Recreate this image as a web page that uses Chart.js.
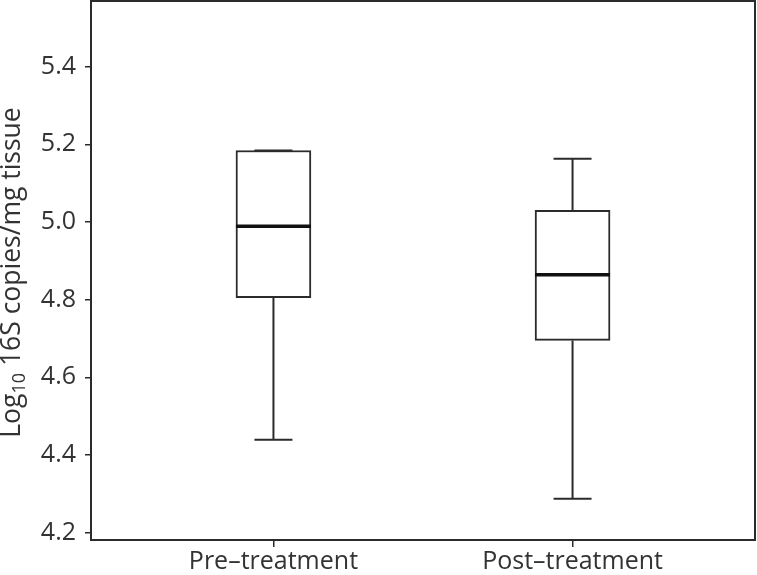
<!DOCTYPE html>
<html>
<head>
<meta charset="utf-8">
<script src="https://cdn.jsdelivr.net/npm/chart.js@4/dist/chart.umd.min.js"></script>
<style>
  html, body { margin: 0; padding: 0; background: #ffffff; }
  #wrap { width: 757px; height: 575px; position: relative; }
</style>
</head>
<body>
<div id="wrap"><canvas id="c"></canvas></div>
<script>
// ---- data ----
const categories = ['Pre\u2013treatment', 'Post\u2013treatment'];
const xPositions = [1, 2];
const whiskerLow = [4.439, 4.287];
const q1 = [4.805, 4.695];
const median = [4.989, 4.864];
const q3 = [5.184, 5.030];
const whiskerHigh = [5.184, 5.163];
const yTicks = [4.2, 4.4, 4.6, 4.8, 5.0, 5.2, 5.4];
const yTitleMain = 'Log';
const yTitleSub = '10';
const yTitleRest = ' 16S copies/mg tissue';

const INK = '#2b2b2b';
const TEXT = '#333333';
const FONT = "'Open Sans', 'Noto Sans', sans-serif";

// whisker segments (vertical lines), separated by gaps
const whiskerData = [];
xPositions.forEach((x, i) => {
  whiskerData.push({ x: x, y: whiskerLow[i] }, { x: x, y: q1[i] }, { x: x, y: null });
  whiskerData.push({ x: x, y: q3[i] }, { x: x, y: whiskerHigh[i] }, { x: x, y: null });
});
const capData = [];
xPositions.forEach((x, i) => {
  capData.push({ x: x, y: whiskerLow[i] }, { x: x, y: whiskerHigh[i] });
});
const medianData = xPositions.map((x, i) => ({ x: x, y: median[i] }));
const boxData = xPositions.map((x, i) => ({ x: x, y: [q1[i], q3[i]] }));

const framePlugin = {
  id: 'frame',
  afterDatasetsDraw(chart) {
    const { ctx, chartArea: a } = chart;
    ctx.save();
    ctx.strokeStyle = INK;
    ctx.lineWidth = 2;
    ctx.strokeRect(a.left, a.top, a.right - a.left, a.bottom - a.top);
    ctx.restore();
  }
};

const yTitlePlugin = {
  id: 'yTitle',
  afterDraw(chart) {
    const { ctx, chartArea: a } = chart;
    const big = "26.5px " + FONT;
    const small = "18px " + FONT;
    ctx.save();
    ctx.fillStyle = TEXT;
    ctx.textBaseline = 'alphabetic';
    ctx.textAlign = 'left';
    ctx.font = big;
    const w1 = ctx.measureText(yTitleMain).width;
    const w3 = ctx.measureText(yTitleRest).width;
    ctx.font = small;
    const w2 = ctx.measureText(yTitleSub).width;
    const total = w1 + w2 + w3;
    ctx.translate(20, (a.top + a.bottom) / 2 + 2);
    ctx.rotate(-Math.PI / 2);
    let x = -total / 2;
    ctx.font = big;
    ctx.fillText(yTitleMain, x, 0);
    x += w1;
    ctx.font = small;
    ctx.fillText(yTitleSub, x, 5);
    x += w2;
    ctx.font = big;
    ctx.fillText(yTitleRest, x, 0);
    ctx.restore();
  }
};

new Chart(document.getElementById('c'), {
  type: 'bar',
  data: {
    datasets: [
      {
        type: 'line',
        label: 'median',
        data: medianData,
        showLine: false,
        pointStyle: 'line',
        pointRadius: 37.5,
        pointHoverRadius: 37.5,
        pointBorderWidth: 3.5,
        pointBorderColor: '#111',
        clip: false,
        order: 1
      },
      {
        type: 'line',
        label: 'caps',
        data: capData,
        showLine: false,
        pointStyle: 'line',
        pointRadius: 19,
        pointHoverRadius: 19,
        pointBorderWidth: 2,
        pointBorderColor: INK,
        clip: false,
        order: 1
      },
      {
        type: 'line',
        label: 'whiskers',
        data: whiskerData,
        spanGaps: false,
        borderColor: INK,
        borderWidth: 2,
        pointRadius: 0,
        order: 2
      },
      {
        type: 'bar',
        label: 'box',
        data: boxData,
        backgroundColor: '#ffffff',
        borderColor: INK,
        borderWidth: 2,
        borderSkipped: false,
        barThickness: 75,
        order: 3
      }
    ]
  },
  options: {
    responsive: true,
    maintainAspectRatio: false,
    animation: false,
    layout: { autoPadding: false, padding: { top: 1, right: 2, left: 0, bottom: 0 } },
    plugins: { legend: { display: false }, tooltip: { enabled: false }, title: { display: false } },
    scales: {
      x: {
        type: 'linear',
        offset: false,
        min: 0.39,
        max: 2.61,
        afterBuildTicks: (s) => { s.ticks = xPositions.map(v => ({ value: v })); },
        afterFit: (s) => { s.height = 35; s.paddingLeft = 0; s.paddingRight = 0; },
        grid: { offset: false, drawOnChartArea: false, drawTicks: true, tickLength: 7, color: INK, lineWidth: 1.5 },
        border: { display: false },
        ticks: {
          color: TEXT,
          font: { family: FONT, size: 25 },
          padding: 0,
          maxRotation: 0,
          autoSkip: false,
          callback: (v) => categories[xPositions.indexOf(v)]
        }
      },
      y: {
        type: 'linear',
        min: 4.181,
        max: 5.569,
        afterBuildTicks: (s) => { s.ticks = yTicks.map(v => ({ value: v })); },
        afterFit: (s) => { s.width = 91; s.paddingTop = 0; s.paddingBottom = 0; },
        grid: { drawOnChartArea: false, drawTicks: true, tickLength: 6, color: INK, lineWidth: 1.5 },
        border: { display: false },
        ticks: {
          color: TEXT,
          font: { family: FONT, size: 25 },
          padding: 9,
          callback: (v) => Number(v).toFixed(1)
        }
      }
    }
  },
  plugins: [framePlugin, yTitlePlugin]
});
</script>
</body>
</html>
